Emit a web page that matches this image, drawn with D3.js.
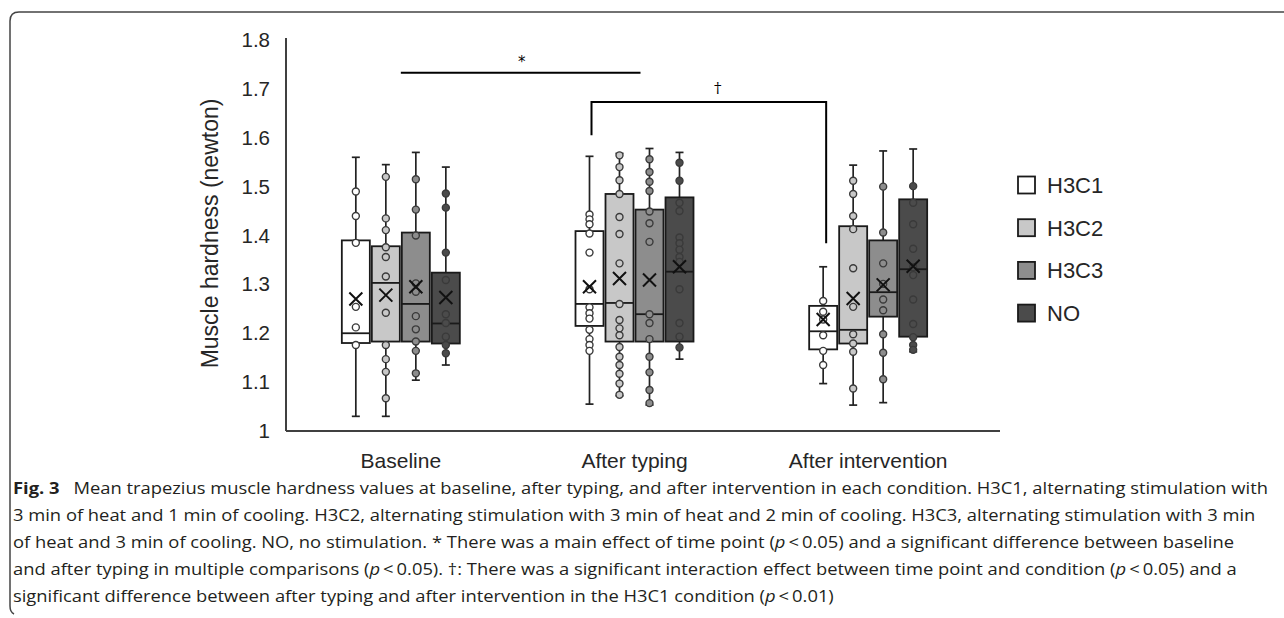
<!DOCTYPE html>
<html lang="en">
<head>
<meta charset="UTF-8">
<title>Muscle hardness boxplot</title>
<script src="https://d3js.org/d3.v7.min.js"></script>
<style>
  body { margin: 0; background: #fff; }
  svg { display: block; }
</style>
</head>
<body>
<svg width="1284" height="618"></svg>
<script>
// time points (x groups) and conditions (series)
const timePoints = ["Baseline", "After typing", "After intervention"];
const conditions = ["H3C1", "H3C2", "H3C3", "NO"];
const fills = ["#ffffff", "#c8c8c8", "#8d8d8d", "#4b4b4b"];

// box statistics, one row per time point, one value per condition
const whiskerLow = [
  [1.03, 1.03, 1.104, 1.135],
  [1.055, 1.072, 1.053, 1.147],
  [1.097, 1.053, 1.058, 1.162]
];
const q1 = [
  [1.18, 1.183, 1.183, 1.179],
  [1.215, 1.183, 1.183, 1.183],
  [1.167, 1.179, 1.234, 1.193]
];
const median = [
  [1.20, 1.303, 1.26, 1.22],
  [1.26, 1.262, 1.239, 1.326],
  [1.204, 1.207, 1.284, 1.331]
];
const q3 = [
  [1.39, 1.378, 1.406, 1.324],
  [1.409, 1.485, 1.453, 1.478],
  [1.256, 1.419, 1.39, 1.474]
];
const whiskerHigh = [
  [1.56, 1.545, 1.57, 1.54],
  [1.562, 1.568, 1.578, 1.57],
  [1.336, 1.544, 1.573, 1.577]
];
const means = [
  [1.27, 1.278, 1.295, 1.273],
  [1.295, 1.312, 1.309, 1.336],
  [1.228, 1.271, 1.299, 1.337]
];
// individual subject values
const points = [
  [
    [1.49, 1.44, 1.385, 1.254, 1.212, 1.176],
    [1.52, 1.435, 1.411, 1.376, 1.356, 1.316, 1.242, 1.176, 1.147, 1.121, 1.067],
    [1.515, 1.453, 1.40, 1.302, 1.285, 1.235, 1.208, 1.183, 1.164, 1.118],
    [1.486, 1.457, 1.365, 1.309, 1.239, 1.221, 1.193, 1.176, 1.159]
  ],
  [
    [1.443, 1.433, 1.423, 1.404, 1.365, 1.29, 1.253, 1.241, 1.23, 1.207, 1.188, 1.176, 1.164],
    [1.564, 1.54, 1.513, 1.485, 1.438, 1.403, 1.343, 1.26, 1.227, 1.21, 1.196, 1.172, 1.152, 1.135, 1.117, 1.097, 1.074],
    [1.556, 1.53, 1.51, 1.491, 1.449, 1.425, 1.387, 1.239, 1.221, 1.188, 1.152, 1.12, 1.084, 1.057],
    [1.549, 1.512, 1.467, 1.45, 1.396, 1.384, 1.371, 1.356, 1.346, 1.29, 1.221, 1.193, 1.171]
  ],
  [
    [1.266, 1.244, 1.228, 1.196, 1.164, 1.135],
    [1.512, 1.485, 1.44, 1.413, 1.333, 1.254, 1.198, 1.179, 1.162, 1.087],
    [1.5, 1.406, 1.343, 1.301, 1.269, 1.247, 1.198, 1.16, 1.106],
    [1.501, 1.467, 1.423, 1.373, 1.335, 1.319, 1.269, 1.219, 1.192, 1.176, 1.166]
  ]
];
const yTicks = [1, 1.1, 1.2, 1.3, 1.4, 1.5, 1.6, 1.7, 1.8];

// significance annotations (in data units)
const starLine = { from: "Baseline", to: "After typing", y: 1.733, label: "*" };
const bracket = { from: "After typing", to: "After intervention", cond: "H3C1",
                  y: 1.673, leftEnd: 1.605, rightEnd: 1.384, label: "\u2020" };

const caption = [
  [["b", "Fig. 3"], ["n", "\u2002 Mean trapezius muscle hardness values at baseline, after typing, and after intervention in each condition. H3C1, alternating stimulation with"]],
  [["n", "3 min of heat and 1 min of cooling. H3C2, alternating stimulation with 3 min of heat and 2 min of cooling. H3C3, alternating stimulation with 3 min"]],
  [["n", "of heat and 3 min of cooling. NO, no stimulation. * There was a main effect of time point ("], ["i", "p"], ["n", "\u2009<\u20090.05) and a significant difference between baseline"]],
  [["n", "and after typing in multiple comparisons ("], ["i", "p"], ["n", "\u2009<\u20090.05). \u2020: There was a significant interaction effect between time point and condition ("], ["i", "p"], ["n", "\u2009<\u20090.05) and a"]],
  [["n", "significant difference between after typing and after intervention in the H3C1 condition ("], ["i", "p"], ["n", "\u2009<\u20090.01)"]]
];

const svg = d3.select("svg");
const sans = "Liberation Sans, Arial, sans-serif";

const x = d3.scaleBand().domain(timePoints).range([284, 985]);
const xc = d3.scalePoint().domain(conditions).range([-45, 45]);
const y = d3.scaleLinear().domain([1, 1.8]).range([431, 40]);
const color = d3.scaleOrdinal().domain(conditions).range(fills);
const boxW = 28;
const cx = (t, c) => x(t) + x.bandwidth() / 2 + xc(c);

// frame
svg.append("path")
  .attr("d", "M1284,12 H19 Q10,12 10,21 V606 Q10,612 14,614")
  .attr("fill", "none").attr("stroke", "#444").attr("stroke-width", 1.5);

// y axis
const yAxis = svg.append("g")
  .attr("transform", "translate(286,0)")
  .call(d3.axisLeft(y).tickValues(yTicks).tickSize(0).tickPadding(16).tickFormat(d3.format("~g")));
yAxis.select(".domain").attr("stroke", "#404040").attr("stroke-width", 2).attr("d", `M0,${y(1.8) - 2}V${y(1)}`);
yAxis.selectAll("text").attr("font-family", sans)
  .attr("font-size", 20.5).attr("fill", "#262626");

// x axis
const xAxis = svg.append("g")
  .attr("transform", `translate(0,${y(1)})`)
  .call(d3.axisBottom(x).tickSize(0).tickPadding(22));
xAxis.select(".domain").attr("stroke", "#404040").attr("stroke-width", 2)
  .attr("d", `M286,0H${x.range()[1] + 15}`);
xAxis.selectAll("text").attr("font-family", sans)
  .attr("font-size", 21).attr("fill", "#262626");

svg.append("text")
  .attr("transform", `translate(218,${(y(1) + y(1.8)) / 2 - 2}) rotate(-90)`)
  .attr("text-anchor", "middle")
  .attr("font-family", sans)
  .attr("font-size", 23).attr("fill", "#262626")
  .text("Muscle hardness (newton)");

// flatten box stats
const boxes = [];
timePoints.forEach((t, i) => conditions.forEach((c, j) => {
  boxes.push({ t, c, lo: whiskerLow[i][j], q1: q1[i][j], med: median[i][j], q3: q3[i][j],
               hi: whiskerHigh[i][j], mean: means[i][j], pts: points[i][j] });
}));

const g = svg.append("g").selectAll("g").data(boxes).join("g");

// whisker lines
g.append("line")
  .attr("x1", d => cx(d.t, d.c)).attr("x2", d => cx(d.t, d.c))
  .attr("y1", d => y(d.lo)).attr("y2", d => y(d.hi))
  .attr("stroke", "#222").attr("stroke-width", 1.7);
g.selectAll(".cap").data(d => [d.lo, d.hi].map(v => ({ v, d }))).join("line")
  .attr("x1", e => cx(e.d.t, e.d.c) - 4).attr("x2", e => cx(e.d.t, e.d.c) + 4)
  .attr("y1", e => y(e.v)).attr("y2", e => y(e.v))
  .attr("stroke", "#222").attr("stroke-width", 1.7);

// boxes
g.append("rect")
  .attr("x", d => cx(d.t, d.c) - boxW / 2).attr("width", boxW)
  .attr("y", d => y(d.q3)).attr("height", d => y(d.q1) - y(d.q3))
  .attr("fill", d => color(d.c)).attr("stroke", "#1a1a1a").attr("stroke-width", 1.8);
g.append("line")
  .attr("x1", d => cx(d.t, d.c) - boxW / 2).attr("x2", d => cx(d.t, d.c) + boxW / 2)
  .attr("y1", d => y(d.med)).attr("y2", d => y(d.med))
  .attr("stroke", "#1a1a1a").attr("stroke-width", 1.8);

// points
g.selectAll("circle").data(d => d.pts.map(v => ({ v, d }))).join("circle")
  .attr("cx", e => cx(e.d.t, e.d.c)).attr("cy", e => y(e.v)).attr("r", 3.5)
  .attr("fill", e => color(e.d.c)).attr("stroke", "#3a3a3a").attr("stroke-width", 1.4);

// mean markers
g.append("path")
  .attr("d", d => {
    const px = cx(d.t, d.c), py = y(d.mean), s = 6.5;
    return `M${px - s},${py - s}L${px + s},${py + s}M${px - s},${py + s}L${px + s},${py - s}`;
  })
  .attr("stroke", "#111").attr("stroke-width", 2).attr("fill", "none");

// significance marks
const mid = t => x(t) + x.bandwidth() / 2;
svg.append("line")
  .attr("x1", mid(starLine.from)).attr("x2", mid(starLine.to) + 6)
  .attr("y1", y(starLine.y)).attr("y2", y(starLine.y))
  .attr("stroke", "#000").attr("stroke-width", 2);
svg.append("text")
  .attr("x", (mid(starLine.from) + mid(starLine.to)) / 2 + 4).attr("y", y(starLine.y) - 6)
  .attr("text-anchor", "middle").attr("font-family", "DejaVu Sans, sans-serif")
  .attr("font-size", 15).text(starLine.label);

const bx0 = cx(bracket.from, bracket.cond) + 2, bx1 = cx(bracket.to, bracket.cond) + 3;
svg.append("path")
  .attr("d", `M${bx0},${y(bracket.leftEnd)}V${y(bracket.y)}H${bx1}V${y(bracket.rightEnd)}`)
  .attr("fill", "none").attr("stroke", "#000").attr("stroke-width", 2);
svg.append("text")
  .attr("x", (bx0 + bx1) / 2 + 9).attr("y", y(bracket.y) - 9)
  .attr("text-anchor", "middle").attr("font-family", "DejaVu Serif, serif")
  .attr("font-size", 15).text(bracket.label);

// legend
const legend = svg.append("g").selectAll("g").data(conditions).join("g")
  .attr("transform", (d, i) => `translate(1018,${185 + i * 42.7})`);
legend.append("rect")
  .attr("x", 0).attr("y", -8.5).attr("width", 17).attr("height", 17)
  .attr("fill", d => color(d)).attr("stroke", "#1a1a1a").attr("stroke-width", 1.8);
legend.append("text")
  .attr("x", 29).attr("y", 8)
  .attr("font-family", sans)
  .attr("font-size", 22).attr("fill", "#262626").text(d => d);

// caption: one shared horizontal squeeze so the first line spans the frame
const cap = svg.append("g").attr("font-family", "Open Sans, Noto Sans, sans-serif")
  .attr("font-size", 16).attr("fill", "#231f20");
const lines = caption.map((line, i) => {
  const t = cap.append("text").attr("x", 13).attr("y", 494 + i * 27);
  line.forEach(([k, s]) => {
    const sp = t.append("tspan").text(s);
    if (k === "b") sp.attr("font-weight", "bold");
    if (k === "i") sp.attr("font-style", "italic");
  });
  return t;
});
const squeeze = 1255 / lines[0].node().getComputedTextLength();
lines.forEach(t => {
  t.attr("textLength", t.node().getComputedTextLength() * squeeze)
   .attr("lengthAdjust", "spacingAndGlyphs");
});
</script>
</body>
</html>
